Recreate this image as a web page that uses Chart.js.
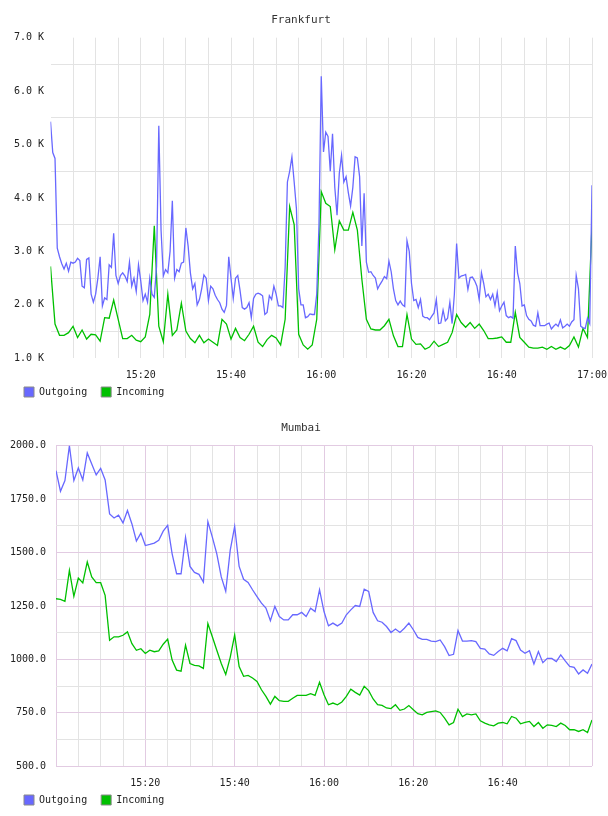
<!DOCTYPE html>
<html>
<head>
<meta charset="utf-8">
<script src="https://cdn.jsdelivr.net/npm/chart.js@4.4.1/dist/chart.umd.min.js"></script>
<style>
  html, body { margin: 0; padding: 0; background: #fff; }
  canvas { display: block; }
</style>
</head>
<body>
<canvas id="frankfurt" width="608" height="408"></canvas>
<canvas id="mumbai" width="608" height="408"></canvas>
<script>
// series names and colours
const seriesNames = ['Outgoing', 'Incoming'];
const seriesColors = ['#6868ff', '#00c000'];

// time axis labels, one every 20 minutes from 15:00
const timeLabels = ['15:00', '15:20', '15:40', '16:00', '16:20', '16:40', '17:00'];

// Frankfurt, values in K, outgoing every 30 s, incoming every minute
const frankfurtOut = [
  5.43, 4.85, 4.74, 3.06, 2.9, 2.77, 2.67, 2.78, 2.63, 2.8,
  2.78, 2.8, 2.87, 2.83, 2.35, 2.32, 2.85, 2.88, 2.2, 2.05,
  2.2, 2.5, 2.9, 1.98, 2.13, 2.1, 2.75, 2.7, 3.34, 2.55,
  2.4, 2.55, 2.6, 2.54, 2.44, 2.8, 2.35, 2.5, 2.25, 2.75,
  2.45, 2.08, 2.2, 2.05, 2.5, 2.2, 2.14, 2.72, 5.35, 3.4,
  2.54, 2.66, 2.6, 3.0, 3.95, 2.5, 2.66, 2.62, 2.78, 2.8,
  3.44, 3.1, 2.6, 2.3, 2.4, 2.0, 2.1, 2.3, 2.56, 2.5,
  2.08, 2.35, 2.3, 2.18, 2.1, 2.04, 1.92, 1.86, 1.99, 2.9,
  2.5, 2.12, 2.5, 2.55, 2.27, 1.95, 1.92, 1.95, 2.04, 1.76,
  2.12, 2.2, 2.22, 2.2, 2.17, 1.82, 1.86, 2.17, 2.1, 2.35,
  2.2, 1.98, 1.98, 1.95, 2.7, 4.3, 4.5, 4.77, 4.3, 3.8,
  2.3, 2.0, 2.0, 1.76, 1.78, 1.83, 1.82, 1.82, 2.2, 3.5,
  6.28, 4.86, 5.23, 5.15, 4.5, 5.2, 4.2, 3.68, 4.46, 4.8,
  4.3, 4.4, 4.1, 3.85, 4.2, 4.77, 4.75, 4.4, 3.1, 4.09,
  2.8, 2.61, 2.62, 2.55, 2.5, 2.3, 2.38, 2.45, 2.53, 2.49,
  2.82, 2.62, 2.3, 2.08, 2.0, 2.07, 2.0, 1.97, 3.2, 3.0,
  2.4, 2.08, 2.1, 1.95, 2.1, 1.79, 1.76, 1.76, 1.72, 1.79,
  1.85, 2.1, 1.65, 1.66, 1.9, 1.7, 1.75, 2.05, 1.65, 2.2,
  3.15, 2.5, 2.54, 2.55, 2.57, 2.29, 2.51, 2.52, 2.45, 2.35,
  2.1, 2.6, 2.4, 2.15, 2.2, 2.1, 2.2, 1.98, 2.23, 1.89,
  1.98, 2.05, 1.8, 1.76, 1.78, 1.75, 3.1, 2.6, 2.4, 1.98,
  2.0, 1.8, 1.73, 1.7, 1.62, 1.6, 1.85, 1.61, 1.61, 1.61,
  1.64, 1.66, 1.55, 1.6, 1.64, 1.6, 1.72, 1.57, 1.6, 1.64,
  1.6, 1.68, 1.72, 2.55, 2.3, 1.6, 1.57, 1.56, 1.75, 1.65,
  4.24
];
const frankfurtIn = [
  2.72, 1.64, 1.43, 1.43, 1.48, 1.6, 1.39, 1.53, 1.36, 1.45,
  1.44, 1.32, 1.76, 1.75, 2.09, 1.73, 1.37, 1.37, 1.43, 1.34,
  1.31, 1.4, 1.82, 3.48, 1.6, 1.31, 2.2, 1.43, 1.53, 2.03,
  1.51, 1.37, 1.29, 1.43, 1.29, 1.36, 1.3, 1.24, 1.73, 1.64,
  1.36, 1.56, 1.39, 1.33, 1.45, 1.6, 1.3, 1.22, 1.35, 1.43,
  1.38, 1.25, 1.73, 3.84, 3.5, 1.45, 1.25, 1.17, 1.25, 1.73,
  4.12, 3.9, 3.84, 3.03, 3.57, 3.4, 3.4, 3.73, 3.4, 2.48,
  1.73, 1.55, 1.53, 1.53, 1.61, 1.73, 1.42, 1.22, 1.22, 1.82,
  1.36, 1.26, 1.27, 1.17, 1.21, 1.32, 1.22, 1.26, 1.3, 1.48,
  1.82, 1.67, 1.58, 1.67, 1.56, 1.64, 1.52, 1.37, 1.37, 1.38,
  1.4, 1.3, 1.3, 1.86, 1.39, 1.3, 1.21, 1.19, 1.19, 1.21,
  1.17, 1.22, 1.17, 1.21, 1.17, 1.24, 1.4, 1.21, 1.56, 1.39,
  3.5
];

// Mumbai, one value per minute
const mumbaiOut = [
  1883, 1787, 1837, 2000, 1837, 1896, 1840, 1966, 1914, 1863,
  1894, 1840, 1681, 1662, 1675, 1639, 1697, 1634, 1554, 1591,
  1533, 1538, 1544, 1557, 1600, 1627, 1494, 1401, 1401, 1572,
  1435, 1407, 1398, 1362, 1645, 1572, 1494, 1386, 1319, 1510,
  1622, 1435, 1375, 1360, 1326, 1294, 1263, 1240, 1181, 1248,
  1201, 1185, 1185, 1209, 1209, 1220, 1201, 1240, 1224, 1326,
  1224, 1157, 1170, 1157, 1170, 1209, 1232, 1252, 1248, 1329,
  1318, 1220, 1181, 1174, 1154, 1126, 1142, 1126, 1146, 1170,
  1139, 1103, 1094, 1094, 1086, 1083, 1091, 1060, 1018, 1024,
  1135, 1086, 1086, 1088, 1083, 1052, 1048, 1026, 1019, 1037,
  1052, 1040, 1097, 1088, 1044, 1029, 1041, 979, 1037, 985,
  1005, 1005, 990, 1021, 993, 967, 963, 932, 951, 935,
  979
];
const mumbaiIn = [
  1284, 1281, 1272, 1417, 1295, 1381, 1358, 1456, 1386, 1359,
  1359, 1300, 1090, 1106, 1106, 1113, 1129, 1074, 1043, 1050,
  1028, 1043, 1036, 1040, 1071, 1095, 997, 950, 945, 1067,
  981, 972, 970, 958, 1168, 1106, 1043, 981, 930, 1010,
  1115, 967, 921, 925, 913, 897, 858, 827, 791, 827,
  807, 804, 804, 818, 832, 832, 832, 840, 832, 893,
  835, 788, 796, 788, 801, 827, 861, 846, 833, 874,
  854, 815, 788, 785, 773, 770, 788, 762, 768, 784,
  765, 746, 741, 752, 756, 759, 752, 725, 694, 705,
  767, 733, 745, 741, 745, 713, 702, 694, 689, 702,
  705, 699, 733, 725, 699, 705, 710, 686, 705, 678,
  694, 691, 686, 702, 691, 671, 671, 663, 671, 658,
  717
];

const FONT = 'DejaVu Sans Mono';
const GRID_GREY = '#e3e3e3';
const GRID_PURPLE = '#e2cbe2';

// legend sits a little closer to the axis labels than Chart.js puts it
const subeLegenda = {
  id: 'subeLegenda',
  afterLayout(chart) {
    chart.legend.top -= 8.3;
    chart.legend.bottom -= 8.3;
  }
};

// turns a series into {x: minutes after 15:00, y}
function emPontos(valores, passo) {
  return valores.map((v, i) => ({ x: i * passo, y: v }));
}

function desenhaGrafico(id, titulo, saida, entrada, passoSaida, eixoY, gradeX, mostraHora, larguraY, folgaY) {
  return new Chart(document.getElementById(id), {
    type: 'line',
    data: {
      datasets: [
        { label: seriesNames[0], data: emPontos(saida, passoSaida), borderColor: seriesColors[0], backgroundColor: seriesColors[0] },
        { label: seriesNames[1], data: emPontos(entrada, 1), borderColor: seriesColors[1], backgroundColor: seriesColors[1] }
      ]
    },
    options: {
      responsive: false,
      animation: false,
      layout: { padding: { left: 10, right: 16, top: 0, bottom: -7.3 } },
      elements: {
        line: { borderWidth: 1.3, tension: 0, fill: false },
        point: { radius: 0 }
      },
      plugins: {
        tooltip: { enabled: false },
        title: {
          display: true,
          text: titulo,
          color: '#333',
          font: { family: FONT, size: 11, weight: 'normal' },
          padding: { top: 14, bottom: 10.5 }
        },
        legend: {
          position: 'bottom',
          align: 'start',
          labels: {
            color: '#222',
            font: { family: FONT, size: 10 },
            boxWidth: 10,
            boxHeight: 10,
            padding: 14,
            generateLabels: chart => Chart.defaults.plugins.legend.labels.generateLabels(chart)
              .map(item => Object.assign(item, { strokeStyle: '#8a8a8a', lineWidth: 1 }))
          }
        }
      },
      scales: {
        x: {
          type: 'linear',
          min: 0,
          max: 120,
          border: { display: false },
          grid: { drawTicks: false, color: gradeX },
          ticks: {
            stepSize: 5,
            autoSkip: false,
            maxRotation: 0,
            padding: 11,
            color: '#222',
            font: { family: FONT, size: 10 },
            callback: v => (v % 20 === 0 && mostraHora(v)) ? timeLabels[v / 20] : ''
          },
          afterFit: s => { s.height = 23; s.paddingLeft = 0; s.paddingRight = 0; }
        },
        y: Object.assign({
          border: { display: false },
          afterFit: s => { s.width = larguraY; s.paddingTop = 0; s.paddingBottom = 0; }
        }, eixoY, {
          ticks: Object.assign({
            autoSkip: false,
            padding: folgaY,
            color: '#222',
            font: { family: FONT, size: 10 }
          }, eixoY.ticks)
        })
      }
    },
    plugins: [subeLegenda]
  });
}

// Frankfurt: grid every 500 between the labelled thousands
desenhaGrafico('frankfurt', 'Frankfurt', frankfurtOut, frankfurtIn, 0.5, {
  min: 1, max: 7,
  grid: { drawTicks: false, color: c => Number.isInteger(c.tick.value) ? 'rgba(0,0,0,0)' : GRID_GREY },
  ticks: {
    stepSize: 0.5,
    callback: v => Number.isInteger(v) ? v.toFixed(1) + ' K' : ''
  }
}, c => c.tick.value === 0 ? 'rgba(0,0,0,0)' : GRID_GREY, v => v > 0, 40.5, 6.5);

// Mumbai: purple major lines, grey minor lines
desenhaGrafico('mumbai', 'Mumbai', mumbaiOut, mumbaiIn, 1, {
  min: 500, max: 2000,
  grid: { drawTicks: false, color: c => c.tick.value % 250 === 0 ? GRID_PURPLE : GRID_GREY },
  ticks: {
    stepSize: 125,
    callback: v => v % 250 === 0 ? v.toFixed(1) : ''
  }
}, c => c.tick.value % 20 === 0 ? GRID_PURPLE : GRID_GREY, v => v > 0 && v < 120, 46, 10);
</script>
</body>
</html>
